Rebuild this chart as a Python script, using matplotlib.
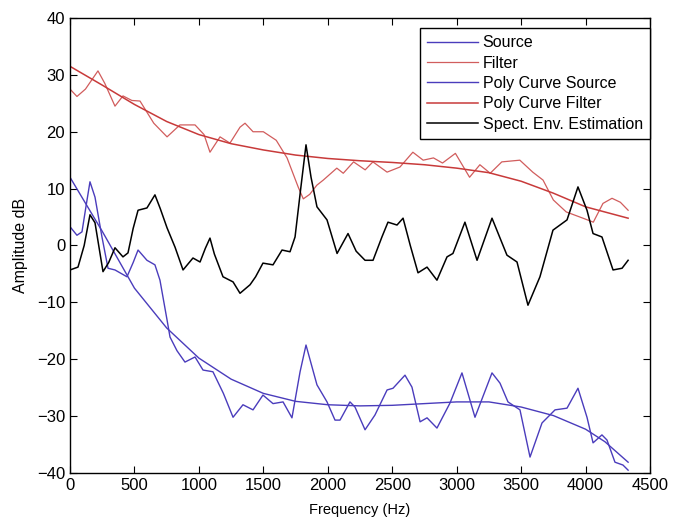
#!/usr/bin/env python3
"""Source / filter spectra with polynomial fits and spectral envelope estimate."""
import matplotlib
matplotlib.use("Agg")
import matplotlib.pyplot as plt

plt.rcParams["font.family"] = ["Liberation Sans", "DejaVu Sans"]

# --- data (Hz, dB) ---
filt_hz = [0, 54, 120, 217, 270, 349, 411, 480, 543, 650, 753, 853, 970, 1040, 1086,
           1164, 1241, 1319, 1358, 1420, 1500, 1600, 1684, 1770, 1810, 1860, 1915, 1965,
           2070, 2120, 2200, 2290, 2350, 2460, 2560, 2660, 2740, 2820, 2890, 2990, 3100,
           3180, 3260, 3350, 3490, 3590, 3670, 3750, 3850, 3980, 4060, 4135, 4205, 4270, 4330]
filt_db = [27.5, 26.2, 27.5, 30.7, 28.5, 24.5, 26.3, 25.5, 25.4, 21.5, 19.1, 21.2, 21.2, 19.5, 16.4,
           19.1, 18.0, 20.8, 21.5, 20.0, 20.0, 18.5, 15.4, 10.3, 8.2, 9.0, 10.6, 11.5,
           13.6, 12.7, 14.7, 13.3, 14.7, 12.9, 13.8, 16.4, 15.0, 15.4, 14.5, 16.2, 12.0,
           14.2, 12.7, 14.7, 15.0, 12.9, 11.5, 8.0, 5.9, 4.8, 4.1, 7.4, 8.3, 7.6, 6.2]

poly_filt_hz = [0, 250, 500, 750, 1000, 1250, 1500, 1750, 2000, 2250, 2500, 2750,
                3000, 3250, 3500, 3750, 4000, 4330]
poly_filt_db = [31.5, 28.2, 24.8, 21.8, 19.5, 17.9, 16.8, 15.9, 15.3, 14.9, 14.6, 14.2,
                13.6, 12.8, 11.3, 9.2, 6.8, 4.8]

src_hz = [0, 54, 93, 125, 155, 194, 248, 295, 349, 442, 490, 528, 597, 659, 698, 753, 776,
          830, 892, 970, 1032, 1109, 1190, 1265, 1342, 1420, 1497, 1575, 1653, 1722, 1785,
          1831, 1916, 1994, 2056, 2095, 2172, 2211, 2289, 2366, 2460, 2506, 2599, 2653, 2716,
          2770, 2847, 2948, 3041, 3142, 3274, 3336, 3398, 3491, 3569, 3662, 3763, 3856, 3941,
          4011, 4058, 4127, 4166, 4228, 4290, 4330]
src_db = [3.3, 1.8, 2.4, 7.0, 11.2, 8.5, 1.5, -4.0, -4.3, -5.5, -3.0, -0.8, -2.6, -3.4, -6.1, -13.1, -16.1,
          -18.5, -20.5, -19.6, -21.9, -22.2, -26.0, -30.2, -28.0, -28.9, -26.3, -27.8, -27.5, -30.3, -22.2,
          -17.5, -24.5, -27.5, -30.7, -30.7, -27.5, -28.4, -32.4, -29.8, -25.4, -25.1, -22.8, -24.9, -31.0,
          -30.3, -32.1, -27.7, -22.4, -30.2, -22.4, -24.2, -27.5, -28.9, -37.2, -31.2, -28.9, -28.6, -25.1,
          -30.2, -34.7, -33.3, -34.2, -38.1, -38.6, -39.5]

poly_src_hz = [0, 250, 500, 750, 1000, 1250, 1500, 1750, 2000, 2250, 2500, 2750,
               3000, 3250, 3500, 3750, 4000, 4150, 4330]
poly_src_db = [12.0, 2.5, -7.5, -14.5, -19.8, -23.5, -26.0, -27.4, -28.0, -28.2, -28.1, -27.8,
               -27.5, -27.5, -28.4, -29.9, -32.3, -34.5, -38.1]

env_hz = [0, 62, 110, 155, 194, 230, 256, 300, 349, 411, 450, 490, 528, 597, 659, 700, 753,
          815, 877, 954, 1009, 1050, 1086, 1120, 1187, 1265, 1319, 1397, 1440, 1497, 1575, 1645,
          1707, 1746, 1790, 1831, 1870, 1916, 1994, 2072, 2157, 2220, 2289, 2351, 2420, 2467,
          2537, 2584, 2640, 2700, 2770, 2847, 2925, 2971, 3064, 3158, 3274, 3390, 3468, 3553,
          3646, 3747, 3856, 3941, 4011, 4058, 4127, 4213, 4283, 4330]
env_db = [-4.3, -3.8, 0.0, 5.4, 4.0, -1.0, -4.6, -3.0, -0.4, -2.0, -1.3, 3.0, 6.2, 6.6, 8.9, 6.5, 3.1,
          -0.3, -4.3, -2.2, -2.9, -0.5, 1.3, -1.5, -5.5, -6.4, -8.4, -6.9, -5.5, -3.1, -3.4, -0.8,
          -1.1, 1.5, 10.0, 17.7, 12.0, 6.8, 4.5, -1.4, 2.1, -1.0, -2.6, -2.6, 1.5, 4.1,
          3.6, 4.8, 0.0, -4.8, -3.8, -6.1, -2.0, -1.4, 4.1, -2.6, 4.8, -1.7, -2.9, -10.5,
          -5.5, 2.7, 4.5, 10.3, 6.2, 2.1, 1.5, -4.3, -4.0, -2.6]

BLUE = "#4a3cbc"
RED = "#cc4b4b"


def main():
    fig = plt.figure(figsize=(6.75, 5.23), dpi=100)
    ax = fig.add_axes([0.1037, 0.0956, 0.8593, 0.87])

    ax.plot(src_hz, src_db, color=BLUE, lw=1.0, label="Source")
    ax.plot(filt_hz, filt_db, color=RED, lw=0.9, alpha=0.9, label="Filter")
    ax.plot(poly_src_hz, poly_src_db, color=BLUE, lw=1.0, label="Poly Curve Source")
    ax.plot(poly_filt_hz, poly_filt_db, color="#c83a3a", lw=1.1, label="Poly Curve Filter")
    ax.plot(env_hz, env_db, color="black", lw=1.1, label="Spect. Env. Estimation")

    ax.set_xlim(0, 4500)
    ax.set_ylim(-40, 40)
    ax.set_xticks(range(0, 4501, 500))
    ax.set_yticks(range(-40, 41, 10))
    ax.tick_params(direction="in", top=True, right=True, labelsize=12, length=5)
    for s in ax.spines.values():
        s.set_linewidth(1.0)
    ax.set_xlabel("Frequency (Hz)", fontsize=10.5, labelpad=7)
    ax.set_ylabel("Amplitude dB", fontsize=11.5, labelpad=6)

    leg = ax.legend(loc="upper right", fontsize=11.5, fancybox=False, framealpha=1,
                    edgecolor="black", borderaxespad=0.0, bbox_to_anchor=(1.0, 0.978),
                    handlelength=3.2, labelspacing=0.34, handletextpad=0.3, borderpad=0.45)
    leg.get_frame().set_linewidth(1.0)

    fig.savefig("out.png", dpi=100)
    plt.close(fig)


if __name__ == "__main__":
    main()
